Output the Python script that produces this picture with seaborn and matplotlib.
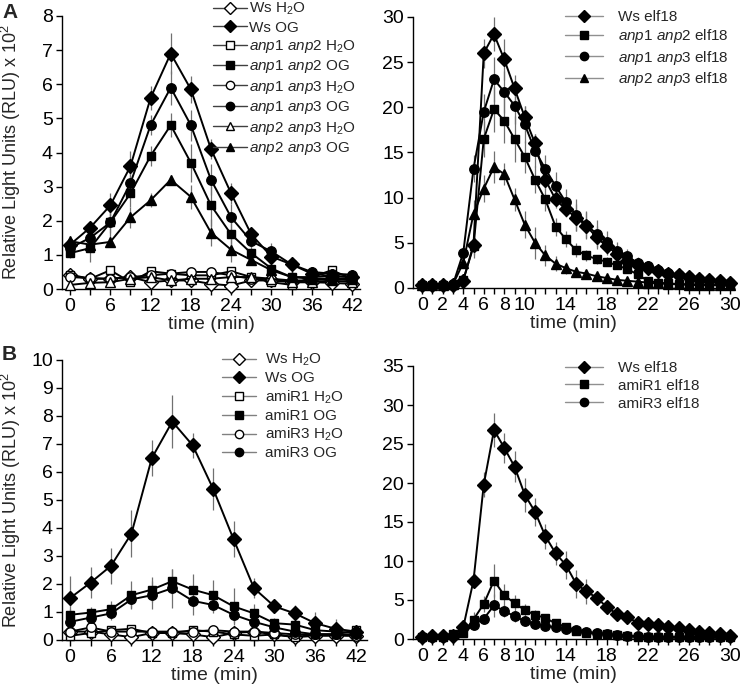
import matplotlib
matplotlib.use("Agg")
import matplotlib.pyplot as plt
import seaborn as sns
import numpy as np
from matplotlib.lines import Line2D

og_time = list(range(0, 43, 3))
elf_time = list(range(0, 31))

# panel A left: OG / water
a_ws_h2o = [0.40, 0.30, 0.30, 0.35, 0.20, 0.25, 0.25, 0.15, 0.10, 0.25, 0.25, 0.20, 0.20, 0.18, 0.15]
a_ws_og = [1.30, 1.80, 2.45, 3.60, 5.60, 6.90, 5.85, 4.10, 2.80, 1.60, 0.95, 0.72, 0.45, 0.38, 0.35]
a_ws_og_err = [0.15, 0.15, 0.35, 0.45, 0.35, 0.60, 0.40, 0.30, 0.30, 0.20, 0.15, 0.12, 0.10, 0.10, 0.08]
a_n12_h2o = [0.42, 0.30, 0.55, 0.20, 0.52, 0.45, 0.40, 0.40, 0.52, 0.35, 0.20, 0.12, 0.35, 0.55, 0.30]
a_n12_og = [1.05, 1.20, 1.95, 2.80, 3.90, 4.80, 3.70, 2.45, 1.60, 1.05, 0.60, 0.35, 0.35, 0.38, 0.35]
a_n12_og_err = [0.15, 0.40, 0.50, 0.40, 0.30, 0.35, 0.55, 0.60, 0.45, 0.30, 0.20, 0.10, 0.10, 0.08, 0.08]
a_n13_h2o = [0.35, 0.32, 0.30, 0.35, 0.40, 0.45, 0.50, 0.50, 0.40, 0.30, 0.30, 0.25, 0.25, 0.30, 0.25]
a_n13_og = [1.20, 1.50, 1.95, 3.10, 4.80, 5.90, 4.80, 3.20, 2.10, 1.40, 1.10, 0.72, 0.50, 0.45, 0.42]
a_n13_og_err = [0.10, 0.15, 0.30, 0.30, 0.30, 0.50, 0.45, 0.45, 0.40, 0.15, 0.25, 0.15, 0.10, 0.08, 0.08]
a_n23_h2o = [0.12, 0.18, 0.20, 0.30, 0.35, 0.25, 0.30, 0.30, 0.35, 0.35, 0.30, 0.20, 0.20, 0.25, 0.20]
a_n23_og = [1.40, 1.30, 1.38, 2.10, 2.60, 3.20, 2.70, 1.65, 1.15, 0.85, 0.55, 0.35, 0.30, 0.30, 0.30]
a_n23_og_err = [0.15, 0.20, 0.15, 0.30, 0.20, 0.15, 0.35, 0.40, 0.35, 0.15, 0.15, 0.10, 0.10, 0.05, 0.05]

# panel A right: elf18
a_ws_elf = [0.3, 0.3, 0.3, 0.3, 0.8, 4.8, 26.0, 28.1, 25.3, 22.1, 18.9, 16.0, 12.0, 9.8, 8.7, 7.8,
            6.9, 5.6, 4.6, 3.8, 3.0, 2.6, 2.2, 1.9, 1.6, 1.4, 1.2, 1.0, 0.9, 0.8, 0.6]
a_ws_elf_err = [0.1, 0.1, 0.1, 0.1, 0.3, 1.5, 1.6, 1.9, 2.3, 1.5, 1.3, 1.1, 1.0, 0.9, 0.8, 1.5,
                1.5, 1.3, 1.0, 0.8, 0.6, 0.5, 0.4, 0.3, 0.3, 0.3, 0.2, 0.2, 0.2, 0.2, 0.1]
a_n12_elf = [0.3, 0.3, 0.3, 0.3, 0.9, 4.6, 16.5, 19.8, 18.5, 16.5, 14.5, 12.0, 9.8, 6.8, 5.4, 4.2,
             3.6, 3.2, 2.9, 2.5, 2.1, 1.5, 0.8, 0.6, 0.5, 0.45, 0.4, 0.4, 0.35, 0.3, 0.3]
a_n12_elf_err = [0.1, 0.1, 0.1, 0.1, 0.3, 1.0, 2.0, 2.5, 2.5, 2.5, 1.8, 1.5, 1.3, 1.0, 0.9, 0.8,
                 0.6, 0.5, 0.5, 0.4, 0.4, 0.3, 0.2, 0.2, 0.1, 0.1, 0.1, 0.1, 0.1, 0.1, 0.1]
a_n13_elf = [0.3, 0.3, 0.3, 0.4, 3.9, 13.2, 19.5, 23.1, 21.7, 20.2, 18.1, 15.2, 13.2, 11.3, 9.5, 8.1,
             7.0, 6.0, 5.1, 4.1, 3.5, 2.8, 2.4, 2.0, 1.7, 1.4, 1.2, 1.0, 0.9, 0.8, 0.6]
a_n13_elf_err = [0.1, 0.1, 0.1, 0.1, 0.5, 1.5, 2.0, 2.5, 2.3, 2.0, 2.0, 1.8, 1.5, 1.5, 1.5, 1.8,
                 1.5, 1.5, 1.2, 1.0, 0.8, 0.6, 0.5, 0.4, 0.3, 0.3, 0.3, 0.2, 0.2, 0.2, 0.2]
a_n23_elf = [0.3, 0.3, 0.3, 0.4, 2.8, 8.2, 11.0, 13.4, 12.6, 9.8, 7.0, 5.0, 3.6, 2.7, 2.2, 1.8,
             1.6, 1.3, 1.1, 0.9, 0.8, 0.7, 0.6, 0.5, 0.45, 0.4, 0.35, 0.3, 0.3, 0.3, 0.3]
a_n23_elf_err = [0.1, 0.1, 0.1, 0.1, 0.4, 1.5, 1.5, 1.8, 1.2, 1.3, 1.5, 1.8, 1.2, 0.8, 0.7, 0.5,
                 0.4, 0.3, 0.3, 0.2, 0.2, 0.2, 0.1, 0.1, 0.1, 0.1, 0.1, 0.1, 0.1, 0.1, 0.1]

# panel B left: OG / water
b_ws_h2o = [0.30, 0.30, 0.20, 0.10, 0.25, 0.25, 0.20, 0.10, 0.25, 0.30, 0.20, 0.10, 0.15, 0.15, 0.15]
b_ws_og = [1.50, 2.05, 2.65, 3.80, 6.50, 7.80, 6.95, 5.40, 3.60, 1.85, 1.20, 0.95, 0.60, 0.40, 0.30]
b_ws_og_err = [0.80, 0.55, 0.65, 0.85, 0.65, 0.95, 0.45, 0.75, 0.65, 0.35, 0.15, 0.30, 0.40, 0.35, 0.10]
b_r1_h2o = [0.15, 0.25, 0.35, 0.40, 0.25, 0.25, 0.35, 0.30, 0.20, 0.15, 0.20, 0.10, 0.20, 0.20, 0.35]
b_r1_og = [0.90, 0.98, 1.10, 1.60, 1.80, 2.10, 1.80, 1.60, 1.20, 0.95, 0.60, 0.55, 0.35, 0.30, 0.25]
b_r1_og_err = [0.20, 0.20, 0.30, 0.50, 0.45, 0.45, 0.55, 0.55, 0.65, 0.35, 0.20, 0.15, 0.10, 0.10, 0.10]
b_r3_h2o = [0.30, 0.45, 0.30, 0.30, 0.30, 0.30, 0.30, 0.35, 0.30, 0.30, 0.25, 0.20, 0.20, 0.20, 0.15]
b_r3_og = [0.65, 0.80, 0.95, 1.45, 1.60, 1.85, 1.40, 1.25, 0.90, 0.65, 0.45, 0.30, 0.20, 0.20, 0.20]
b_r3_og_err = [0.15, 0.20, 0.25, 0.30, 0.50, 0.70, 0.50, 0.30, 0.30, 0.20, 0.15, 0.10, 0.10, 0.10, 0.10]

# panel B right: elf18
b_ws_elf = [0.3, 0.4, 0.35, 0.4, 1.5, 7.5, 19.8, 26.8, 24.5, 22.1, 18.5, 16.3, 13.2, 11.0, 9.5, 7.1,
            6.1, 5.3, 4.1, 3.2, 2.8, 2.1, 1.9, 1.8, 1.6, 1.4, 1.1, 0.9, 0.8, 0.6, 0.4]
b_ws_elf_err = [0.1, 0.1, 0.1, 0.1, 0.3, 1.0, 1.6, 2.2, 1.9, 2.0, 2.2, 1.8, 1.6, 1.5, 1.8, 1.8,
                1.6, 0.7, 0.5, 0.4, 0.4, 0.3, 0.3, 0.3, 0.3, 0.2, 0.2, 0.2, 0.2, 0.1, 0.1]
b_r1_elf = [0.2, 0.2, 0.2, 0.7, 0.8, 2.5, 4.5, 7.5, 5.6, 4.6, 3.7, 3.1, 2.7, 2.0, 1.6, 1.0,
            0.8, 0.7, 0.6, 0.5, 0.4, 0.3, 0.3, 0.25, 0.25, 0.2, 0.2, 0.2, 0.2, 0.2, 0.2]
b_r1_elf_err = [0.1, 0.1, 0.1, 0.1, 0.2, 1.0, 1.0, 2.1, 1.5, 1.0, 0.8, 0.6, 0.5, 0.4, 0.3, 0.2,
                0.2, 0.2, 0.1, 0.1, 0.1, 0.1, 0.1, 0.1, 0.1, 0.1, 0.1, 0.1, 0.1, 0.1, 0.1]
b_r3_elf = [0.2, 0.2, 0.2, 0.5, 1.4, 1.8, 2.6, 4.3, 3.6, 2.9, 2.3, 1.9, 1.7, 1.5, 1.3, 1.1,
            0.9, 0.8, 0.6, 0.5, 0.4, 0.35, 0.3, 0.3, 0.25, 0.25, 0.2, 0.2, 0.2, 0.2, 0.2]
b_r3_elf_err = [0.1, 0.1, 0.1, 0.1, 0.3, 0.5, 0.6, 1.5, 0.8, 0.7, 0.6, 0.4, 0.3, 0.3, 0.2, 0.2,
                0.2, 0.1, 0.1, 0.1, 0.1, 0.1, 0.1, 0.1, 0.1, 0.1, 0.1, 0.1, 0.1, 0.1, 0.1]

sns.set_style("ticks")
plt.rcParams["font.family"] = ["Liberation Sans", "DejaVu Sans"]
plt.rcParams["mathtext.fontset"] = "custom"
plt.rcParams["mathtext.rm"] = "Liberation Sans"
plt.rcParams["mathtext.it"] = "Liberation Sans:italic"

MS = {"D": 7, "s": 6.3, "o": 6.8, "^": 7}


def series(ax, x, y, marker, filled, err=None):
    if err is not None:
        lo = np.array(y) - np.array(err)
        hi = np.array(y) + np.array(err)
        ax.vlines(x, lo, hi, color="#707070", lw=0.9, zorder=1)
    sns.lineplot(x=x, y=y, ax=ax, color="black", lw=1.4, marker=marker,
                 markersize=MS[marker], markerfacecolor="black" if filled else "white",
                 markeredgecolor="black", markeredgewidth=1.0, zorder=3, clip_on=False)


def handles(specs, line_color):
    out = []
    for marker, filled in specs:
        out.append(Line2D([], [], color=line_color, lw=1.0, marker=marker,
                          markersize=MS[marker] - 0.8,
                          markerfacecolor="black" if filled else "white",
                          markeredgecolor="black", markeredgewidth=1.0))
    return out


def style(ax, xlim, ylim, xticks, xlabels, yticks):
    ax.set_xlim(*xlim)
    ax.set_ylim(*ylim)
    ax.set_xticks(xticks)
    ax.set_xticklabels(xlabels)
    ax.set_yticks(yticks)
    ax.tick_params(direction="out", length=4, width=1, labelsize=14, pad=2.5, colors="black")
    for s in ["left", "bottom"]:
        ax.spines[s].set_linewidth(1.0)
        ax.spines[s].set_color("black")
    sns.despine(ax=ax)
    ax.set_xlabel("time (min)", fontsize=14, labelpad=1)


fig = plt.figure(figsize=(7.4, 6.94), dpi=100)
ax1 = fig.add_axes([62 / 740, 1 - 289 / 694, 298 / 740, 273 / 694])
ax2 = fig.add_axes([413 / 740, 1 - 288 / 694, 321 / 740, 271 / 694])
ax3 = fig.add_axes([62 / 740, 1 - 640 / 694, 305 / 740, 280 / 694])
ax4 = fig.add_axes([413 / 740, 1 - 639 / 694, 321 / 740, 273 / 694])

og_labels = [str(t) if t % 6 == 0 else "" for t in og_time]
elf_shown = [0, 2, 4, 6, 8, 10, 14, 18, 22, 26, 30]
elf_labels = [str(t) if t in elf_shown else "" for t in elf_time]

# A left
series(ax1, og_time, a_ws_h2o, "D", False)
series(ax1, og_time, a_n12_h2o, "s", False)
series(ax1, og_time, a_n13_h2o, "o", False)
series(ax1, og_time, a_n23_h2o, "^", False)
series(ax1, og_time, a_n23_og, "^", True, a_n23_og_err)
series(ax1, og_time, a_n12_og, "s", True, a_n12_og_err)
series(ax1, og_time, a_n13_og, "o", True, a_n13_og_err)
series(ax1, og_time, a_ws_og, "D", True, a_ws_og_err)
style(ax1, (-1.2, 43.2), (0, 8), og_time, og_labels, range(0, 9))
labels_a1 = ["Ws H$_2$O", "Ws OG",
             r"$\mathit{anp1\ anp2}$ H$_2$O", r"$\mathit{anp1\ anp2}$ OG",
             r"$\mathit{anp1\ anp3}$ H$_2$O", r"$\mathit{anp1\ anp3}$ OG",
             r"$\mathit{anp2\ anp3}$ H$_2$O", r"$\mathit{anp2\ anp3}$ OG"]
specs_a1 = [("D", False), ("D", True), ("s", False), ("s", True),
            ("o", False), ("o", True), ("^", False), ("^", True)]
fig.legend(handles(specs_a1, "#404040"), labels_a1, loc="upper left",
           bbox_to_anchor=(213 / 740, 1 - 1 / 694), frameon=False, fontsize=11,
           handlelength=2.2, handletextpad=0.15, labelspacing=0.22, borderpad=0, borderaxespad=0)

# A right
series(ax2, elf_time, a_n23_elf, "^", True, a_n23_elf_err)
series(ax2, elf_time, a_n12_elf, "s", True, a_n12_elf_err)
series(ax2, elf_time, a_n13_elf, "o", True, a_n13_elf_err)
series(ax2, elf_time, a_ws_elf, "D", True, a_ws_elf_err)
style(ax2, (-0.9, 30.4), (0, 30), elf_time, elf_labels, range(0, 31, 5))
labels_a2 = ["Ws elf18", r"$\mathit{anp1\ anp2}$ elf18",
             r"$\mathit{anp1\ anp3}$ elf18", r"$\mathit{anp2\ anp3}$ elf18"]
specs_a2 = [("D", True), ("s", True), ("o", True), ("^", True)]
fig.legend(handles(specs_a2, "#909090"), labels_a2, loc="upper left",
           bbox_to_anchor=(565 / 740, 1 - 10 / 694), frameon=False, fontsize=11,
           handlelength=2.5, handletextpad=1.0, labelspacing=0.22, borderpad=0, borderaxespad=0)

# B left
series(ax3, og_time, b_ws_h2o, "D", False)
series(ax3, og_time, b_r1_h2o, "s", False)
series(ax3, og_time, b_r3_h2o, "o", False)
series(ax3, og_time, b_r3_og, "o", True, b_r3_og_err)
series(ax3, og_time, b_r1_og, "s", True, b_r1_og_err)
series(ax3, og_time, b_ws_og, "D", True, b_ws_og_err)
style(ax3, (-1.2, 43.6), (0, 10), og_time, og_labels, range(0, 11))
labels_b1 = ["Ws H$_2$O", "Ws OG", "amiR1 H$_2$O", "amiR1 OG", "amiR3 H$_2$O", "amiR3 OG"]
specs_b1 = [("D", False), ("D", True), ("s", False), ("s", True), ("o", False), ("o", True)]
fig.legend(handles(specs_b1, "#808080"), labels_b1, loc="upper left",
           bbox_to_anchor=(222 / 740, 1 - 352 / 694), frameon=False, fontsize=11,
           handlelength=2.2, handletextpad=0.6, labelspacing=0.2, borderpad=0, borderaxespad=0)

# B right
series(ax4, elf_time, b_r3_elf, "o", True, b_r3_elf_err)
series(ax4, elf_time, b_r1_elf, "s", True, b_r1_elf_err)
series(ax4, elf_time, b_ws_elf, "D", True, b_ws_elf_err)
style(ax4, (-0.9, 30.4), (0, 35), elf_time, elf_labels, range(0, 36, 5))
labels_b2 = ["Ws elf18", "amiR1 elf18", "amiR3 elf18"]
specs_b2 = [("D", True), ("s", True), ("o", True)]
fig.legend(handles(specs_b2, "#909090"), labels_b2, loc="upper left",
           bbox_to_anchor=(565 / 740, 1 - 361 / 694), frameon=False, fontsize=11,
           handlelength=2.5, handletextpad=1.0, labelspacing=0.25, borderpad=0, borderaxespad=0)

ylab = "Relative Light Units (RLU) x 10$^2$"
for ax, w in [(ax1, 298), (ax3, 305)]:
    ax.set_ylabel(ylab, fontsize=13)
    ax.yaxis.set_label_coords(-39 / w, 0.5)

fig.text(2 / 740, 1 - 13 / 694, "A", fontsize=15, fontweight="bold", va="center", ha="left")
fig.text(2 / 740, 1 - 355 / 694, "B", fontsize=15, fontweight="bold", va="center", ha="left")

fig.savefig("out.png", dpi=100)
